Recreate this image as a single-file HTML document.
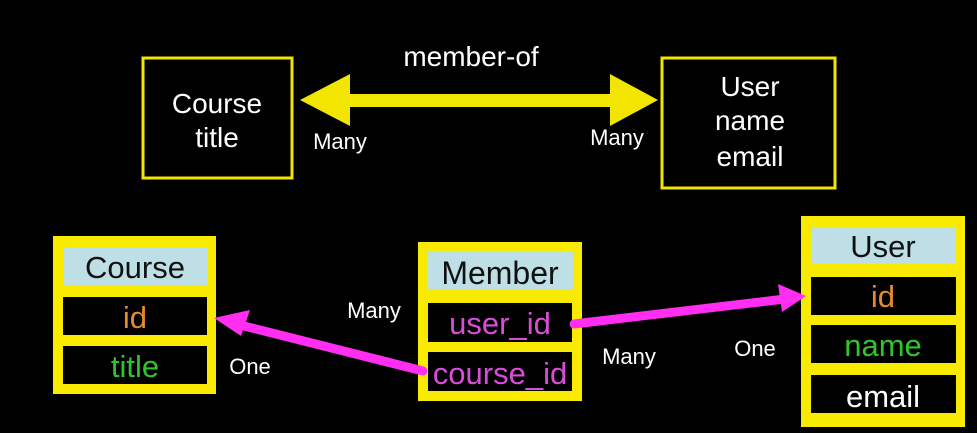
<!DOCTYPE html>
<html><head><style>
html,body{margin:0;padding:0;background:#000;width:977px;height:433px;overflow:hidden}
svg{display:block}
text{font-family:"Liberation Sans",sans-serif}
</style></head><body>
<svg width="977" height="433" viewBox="0 0 977 433">
<rect width="977" height="433" fill="#000"/>
<!-- top boxes -->
<rect x="143" y="58" width="149" height="120" fill="none" stroke="#f2e500" stroke-width="3"/>
<text x="217" y="113" fill="#fff" font-size="28" text-anchor="middle">Course</text>
<text x="217" y="147" fill="#fff" font-size="28" text-anchor="middle">title</text>
<rect x="662" y="58" width="173" height="130" fill="none" stroke="#f2e500" stroke-width="3"/>
<text x="750" y="96" fill="#fff" font-size="28" text-anchor="middle">User</text>
<text x="750" y="130" fill="#fff" font-size="28" text-anchor="middle">name</text>
<text x="750" y="166" fill="#fff" font-size="28" text-anchor="middle">email</text>
<!-- double arrow -->
<rect x="345" y="94" width="270" height="13" fill="#f2e500"/>
<polygon points="300,100 350,74 350,126" fill="#f2e500"/>
<polygon points="658,100 610,74 610,126" fill="#f2e500"/>
<text x="471" y="66" fill="#fff" font-size="28" text-anchor="middle">member-of</text>
<text x="340" y="149" fill="#fff" font-size="22" text-anchor="middle">Many</text>
<text x="617" y="145" fill="#fff" font-size="22" text-anchor="middle">Many</text>
<!-- Course table -->
<rect x="53" y="236" width="163" height="158" fill="#f8ea00"/>
<rect x="63" y="247" width="144" height="38" fill="#bfdfe6"/>
<text x="135" y="278" fill="#111" font-size="31" text-anchor="middle">Course</text>
<rect x="63" y="297" width="144" height="38" fill="#000"/>
<text x="135" y="328" fill="#e88a2a" font-size="31" text-anchor="middle">id</text>
<rect x="63" y="346" width="144" height="38" fill="#000"/>
<text x="135" y="377" fill="#2ec52e" font-size="31" text-anchor="middle">title</text>
<!-- Member table -->
<rect x="418" y="242" width="164" height="159" fill="#f8ea00"/>
<rect x="428" y="251" width="145" height="39" fill="#bfdfe6"/>
<text x="500" y="284" fill="#111" font-size="32" text-anchor="middle">Member</text>
<rect x="428" y="303" width="144" height="39" fill="#000"/>
<text x="500" y="334" fill="#d84ed8" font-size="31" text-anchor="middle">user_id</text>
<rect x="428" y="352" width="144" height="39" fill="#000"/>
<text x="500" y="384" fill="#d84ed8" font-size="31" text-anchor="middle">course_id</text>
<!-- User table -->
<rect x="801" y="216" width="164" height="211" fill="#f8ea00"/>
<rect x="811" y="227" width="145" height="37" fill="#bfdfe6"/>
<text x="883" y="257" fill="#111" font-size="31" text-anchor="middle">User</text>
<rect x="811" y="277" width="145" height="38" fill="#000"/>
<text x="883" y="307" fill="#e88a2a" font-size="31" text-anchor="middle">id</text>
<rect x="811" y="325" width="145" height="38" fill="#000"/>
<text x="883" y="356" fill="#2ec52e" font-size="31" text-anchor="middle">name</text>
<rect x="811" y="375" width="145" height="38" fill="#000"/>
<text x="883" y="407" fill="#fff" font-size="31" text-anchor="middle">email</text>
<!-- pink arrows -->
<line x1="423" y1="371" x2="240" y2="325" stroke="#ff2ef0" stroke-width="9" stroke-linecap="round"/>
<polygon points="214,318 250,310 241,336" fill="#ff2ef0"/>
<line x1="574" y1="324" x2="785" y2="299" stroke="#ff2ef0" stroke-width="9" stroke-linecap="round"/>
<polygon points="806,296 778,284 782,312" fill="#ff2ef0"/>
<text x="374" y="318" fill="#fff" font-size="22" text-anchor="middle">Many</text>
<text x="250" y="374" fill="#fff" font-size="22" text-anchor="middle">One</text>
<text x="629" y="364" fill="#fff" font-size="22" text-anchor="middle">Many</text>
<text x="755" y="356" fill="#fff" font-size="22" text-anchor="middle">One</text>
</svg>
</body></html>
